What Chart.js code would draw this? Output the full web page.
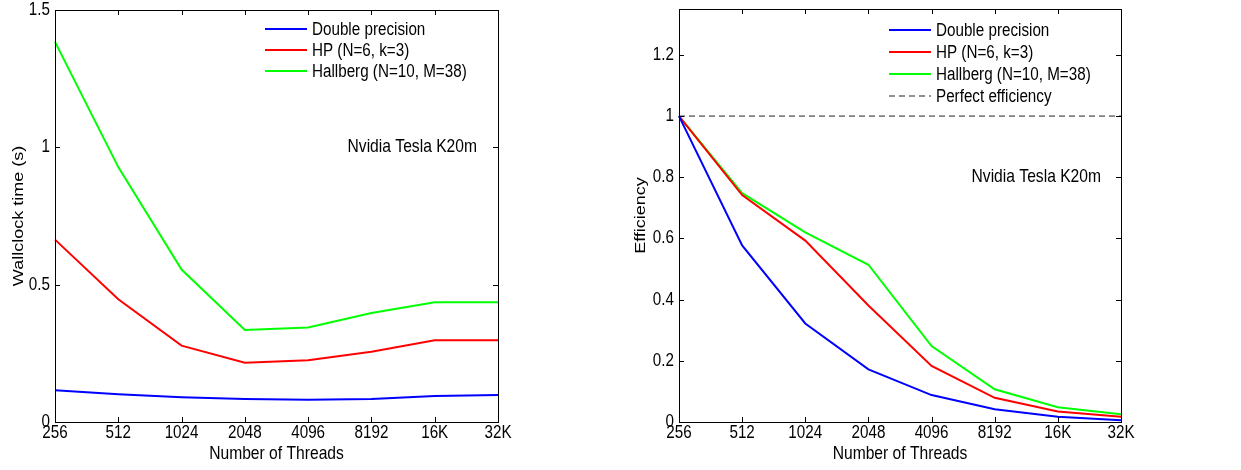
<!DOCTYPE html>
<html>
<head>
<meta charset="utf-8">
<script src="https://cdn.jsdelivr.net/npm/chart.js@4.4.1/dist/chart.umd.min.js"></script>
<style>
    html, body { margin: 0; padding: 0; background: #fff; }
    .panel { position: absolute; top: 0; height: 470px; }
    #left { left: 0; width: 620px; }
    #right { left: 620px; width: 621px; }
</style>
</head>
<body>
<div class="panel" id="left"><canvas id="timeChart"></canvas></div>
<div class="panel" id="right"><canvas id="effChart"></canvas></div>
<script>
// Dữ liệu
const threads = ['256', '512', '1024', '2048', '4096', '8192', '16K', '32K'];

const timeDouble   = [0.116, 0.101, 0.090, 0.084, 0.081, 0.084, 0.095, 0.098];
const timeHP       = [0.664, 0.447, 0.278, 0.216, 0.225, 0.256, 0.298, 0.298];
const timeHallberg = [1.384, 0.928, 0.555, 0.335, 0.344, 0.397, 0.436, 0.436];

const effDouble   = [1, 0.577, 0.322, 0.172, 0.088, 0.042, 0.017, 0.006];
const effHP       = [1, 0.742, 0.593, 0.381, 0.183, 0.079, 0.034, 0.017];
const effHallberg = [1, 0.748, 0.620, 0.514, 0.248, 0.107, 0.048, 0.025];
const effPerfect  = [1, 1, 1, 1, 1, 1, 1, 1];

const timeTicks = [0, 0.5, 1, 1.5];
const effTicks  = [0, 0.2, 0.4, 0.6, 0.8, 1, 1.2];

const SANS = '"Liberation Sans", Arial, Helvetica, sans-serif';
const SQUASH = 0.845;   // hình gốc bị nén theo chiều ngang

Chart.defaults.font.family = SANS;
Chart.defaults.color = '#000';

// Nén chữ theo chiều ngang màn hình cho giống ảnh gốc
function squashText(ctx, k) {
    const orig = ctx.fillText.bind(ctx);
    ctx.fillText = function (text, x, y) {
        const m = ctx.getTransform();
        ctx.save();
        ctx.translate(x, y);
        if (Math.abs(m.b) > 0.5) ctx.scale(1, k);   // chữ xoay dọc
        else ctx.scale(k, 1);
        orig(text, 0, 0);
        ctx.restore();
    };
    return ctx;
}

// Khung kiểu MATLAB: viền + vạch chia hướng vào trong
const boxPlugin = {
    id: 'matlabBox',
    afterDraw(chart) {
        const { ctx, chartArea: a, scales } = chart;
        const len = 5;
        ctx.save();
        ctx.strokeStyle = '#000';
        ctx.lineWidth = 1;
        ctx.beginPath();
        scales.x.ticks.forEach((t, i) => {
            const px = Math.round(scales.x.getPixelForTick(i)) + 0.5;
            ctx.moveTo(px, a.bottom); ctx.lineTo(px, a.bottom - len);
            ctx.moveTo(px, a.top);    ctx.lineTo(px, a.top + len);
        });
        scales.y.ticks.forEach((t, i) => {
            const py = Math.round(scales.y.getPixelForTick(i)) + 0.5;
            ctx.moveTo(a.left, py);  ctx.lineTo(a.left + len, py);
            ctx.moveTo(a.right, py); ctx.lineTo(a.right - len, py);
        });
        ctx.stroke();
        ctx.strokeRect(Math.round(a.left) + 0.5, Math.round(a.top) + 0.5,
                       Math.round(a.right - a.left), Math.round(a.bottom - a.top));
        ctx.restore();
    }
};

// Chú thích đặt bên trong vùng vẽ
const insideLegend = {
    id: 'insideLegend',
    afterDraw(chart, args, opts) {
        const { ctx, chartArea: a } = chart;
        const x0 = a.left + opts.dx;
        let y = a.top + opts.dy;
        ctx.save();
        ctx.font = opts.font;
        ctx.textBaseline = 'middle';
        ctx.textAlign = 'left';
        chart.data.datasets.forEach(ds => {
            ctx.strokeStyle = ds.borderColor;
            ctx.lineWidth = ds.borderWidth;
            ctx.setLineDash(ds.borderDash || []);
            ctx.beginPath();
            ctx.moveTo(x0, y);
            ctx.lineTo(x0 + 42, y);
            ctx.stroke();
            ctx.fillStyle = '#000';
            ctx.fillText(ds.label, x0 + 47, y + 1);
            y += opts.step;
        });
        ctx.restore();
    }
};

// Nhãn "Nvidia Tesla K20m"
const noteLabel = {
    id: 'noteLabel',
    afterDraw(chart, args, opts) {
        const { ctx, chartArea: a, scales } = chart;
        ctx.save();
        ctx.font = opts.font;
        ctx.fillStyle = '#000';
        ctx.textAlign = 'right';
        ctx.textBaseline = 'middle';
        ctx.fillText(opts.text, a.right - opts.dxRight, scales.y.getPixelForValue(opts.yValue));
        ctx.restore();
    }
};

function line(label, data, color, extra) {
    return Object.assign({
        label: label,
        data: data,
        borderColor: color,
        backgroundColor: color,
        borderWidth: 2,
        pointRadius: 0,
        tension: 0,
        fill: false
    }, extra || {});
}

function makeOptions(cfg) {
    return {
        responsive: true,
        maintainAspectRatio: false,
        animation: false,
        events: [],
        layout: { padding: { left: 0, top: cfg.top, right: cfg.right, bottom: 0 } },
        plugins: {
            legend: { display: false },
            tooltip: { enabled: false },
            insideLegend: { dx: 210, dy: cfg.legendDy, step: cfg.legendStep, font: '18px ' + SANS },
            noteLabel: { text: 'Nvidia Tesla K20m', yValue: cfg.noteY, dxRight: cfg.noteDx, font: '18.5px ' + SANS }
        },
        scales: {
            x: {
                type: 'category',
                offset: false,
                grid: { display: false, drawTicks: false },
                border: { display: false },
                ticks: { padding: 0, font: { size: 18 }, maxRotation: 0, autoSkip: false },
                title: { display: true, text: 'Number of Threads', font: { size: 18.5 }, padding: { top: 0, bottom: 5 } },
                afterFit: s => { s.height = 48; s.paddingLeft = 0; s.paddingRight = 0; }
            },
            y: {
                min: 0,
                max: cfg.max,
                grid: { display: false, drawTicks: false },
                border: { display: false },
                afterBuildTicks: s => { s.ticks = cfg.ticks.map(v => ({ value: v })); },
                ticks: { padding: 5, font: { size: 18 }, callback: v => String(v) },
                title: { display: true, text: cfg.yTitle, font: { size: 18 }, padding: { top: cfg.titlePad, bottom: 0 } },
                afterFit: s => { s.width = cfg.left; s.paddingTop = 0; s.paddingBottom = 0; }
            }
        }
    };
}

const timeCtx = squashText(document.getElementById('timeChart').getContext('2d'), SQUASH);
new Chart(timeCtx, {
    type: 'line',
    data: {
        labels: threads,
        datasets: [
            line('Double precision', timeDouble, '#0000ff'),
            line('HP (N=6, k=3)', timeHP, '#ff0000'),
            line('Hallberg (N=10, M=38)', timeHallberg, '#00ff00')
        ]
    },
    options: makeOptions({
        top: 10, right: 122, left: 55, max: 1.5, ticks: timeTicks,
        yTitle: 'Wallclock time (s)', titlePad: 8,
        legendDy: 19, legendStep: 21, noteY: 1.0, noteDx: 21
    }),
    plugins: [boxPlugin, insideLegend, noteLabel]
});

const effCtx = squashText(document.getElementById('effChart').getContext('2d'), SQUASH);
new Chart(effCtx, {
    type: 'line',
    data: {
        labels: threads,
        datasets: [
            line('Double precision', effDouble, '#0000ff'),
            line('HP (N=6, k=3)', effHP, '#ff0000'),
            line('Hallberg (N=10, M=38)', effHallberg, '#00ff00'),
            line('Perfect efficiency', effPerfect, '#222222', { borderWidth: 1, borderDash: [6, 4] })
        ]
    },
    options: makeOptions({
        top: 9, right: 120, left: 59, max: 1.35, ticks: effTicks,
        yTitle: 'Efficiency', titlePad: 10,
        legendDy: 21, legendStep: 22, noteY: 0.8, noteDx: 20
    }),
    plugins: [boxPlugin, insideLegend, noteLabel]
});
</script>
</body>
</html>
